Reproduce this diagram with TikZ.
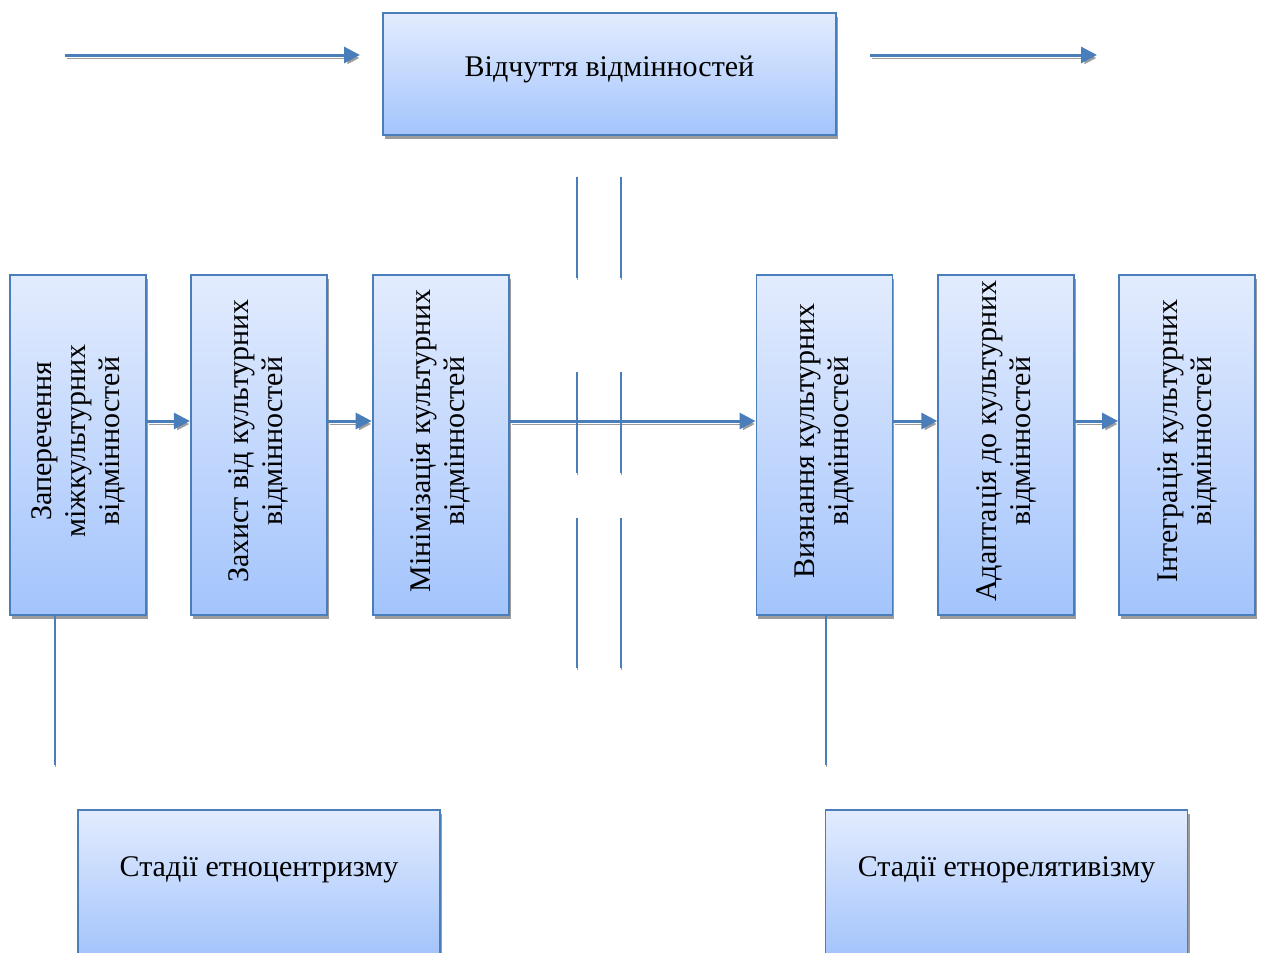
\documentclass[tikz,border=0pt]{standalone}
\usepackage{fontspec}
\setmainfont{Liberation Serif}
\usepackage{xcolor}
\usepackage{tikz}
\usetikzlibrary{arrows.meta,positioning,shadows}

\definecolor{boxline}{HTML}{4A7EBB}
\definecolor{boxtop}{HTML}{E3ECFE}
\definecolor{boxbottom}{HTML}{A3C4FC}
\definecolor{shadegray}{HTML}{9C9C9C}

\begin{document}
\begin{tikzpicture}[
    x=1pt, y=-1pt,
    box/.style={rectangle, draw=boxline, line width=1.8pt, inner sep=0pt,
        top color=boxtop, bottom color=boxbottom,
        drop shadow={shadow xshift=2pt, shadow yshift=-4pt, fill=shadegray, opacity=1}},
    stagebox/.style={box, minimum width=136pt, minimum height=340pt},
    wide/.style={box, minimum width=362pt, minimum height=146pt},
    label/.style={font=\fontsize{30}{34}\selectfont, align=center, inner sep=0pt},
    vlabel/.style={label, rotate=90},
    flow/.style={draw=boxline, line width=3pt, -{Triangle[length=16pt,width=16pt]},
        preaction={draw=shadegray, transform canvas={xshift=2pt,yshift=-3pt}}},
    link/.style={draw=boxline, line width=2pt,
        preaction={draw=shadegray, transform canvas={yshift=-2pt}}},
]
\clip (0,0) rectangle (1261,953);

% Top box
\node[box, minimum width=453pt, minimum height=122pt] (feel) at (609.5,74) {};
\node[label] (feelt) at (609.5,69) {Відчуття відмінностей};

\coordinate (inA) at (65,55);
\coordinate (inB) at (360,55);
\coordinate (outA) at (870,55);
\coordinate (outB) at (1097,55);
\draw[flow] (inA) -- (inB);
\draw[flow] (outA) -- (outB);

% Stage boxes
\node[stagebox] (deny) at (78,445) {};
\node[stagebox, right=43pt of deny] (defend) {};
\node[stagebox, right=44pt of defend] (minim) {};
\node[stagebox, right=246pt of minim] (accept) {};
\node[stagebox, right=44pt of accept] (adapt) {};
\node[stagebox, right=43pt of adapt] (integr) {};

\node[vlabel] (denyt) at ([yshift=4pt]deny.center) {Заперечення\\міжкультурних\\відмінностей};
\node[vlabel] (defendt) at ([yshift=4pt]defend.center) {Захист від культурних\\відмінностей};
\node[vlabel] (minimt) at ([yshift=4pt]minim.center) {Мінімізація культурних\\відмінностей};
\node[vlabel] (acceptt) at ([yshift=4pt]accept.center) {Визнання культурних\\відмінностей};
\node[vlabel] (adaptt) at ([yshift=4pt]adapt.center) {Адаптація до культурних\\відмінностей};
\node[vlabel] (integrt) at ([yshift=4pt]integr.center) {Інтеграція культурних\\відмінностей};

% Arrows
\draw[flow] ([yshift=24pt]deny.east) -- ([yshift=24pt]defend.west);
\draw[flow] ([yshift=24pt]defend.east) -- ([yshift=24pt]minim.west);
\draw[flow] ([yshift=24pt]minim.east) -- ([yshift=24pt]accept.west);
\draw[flow] ([yshift=24pt]accept.east) -- ([yshift=24pt]adapt.west);
\draw[flow] ([yshift=24pt]adapt.east) -- ([yshift=24pt]integr.west);

% Break lines
\foreach \x in {577,621} {
  \foreach \a/\b in {177/278, 372/473, 518/668} {
    \draw[link] (\x,\a) -- (\x,\b);
  }
}

% Bottom boxes
\node[wide] (ethnoc) at (259,883) {};
\node[label] (ethnoct) at (259,870) {Стадії етноцентризму};
\node[wide] (ethnor) at (1006.5,883) {};
\node[label] (ethnort) at (1006.5,870) {Стадії етнорелятивізму};

\coordinate (endL) at (55,765);
\coordinate (endR) at (826,765);
\draw[link] (deny.south -| endL) -- (endL);
\draw[link] (accept.south -| endR) -- (endR);

\end{tikzpicture}
\end{document}
